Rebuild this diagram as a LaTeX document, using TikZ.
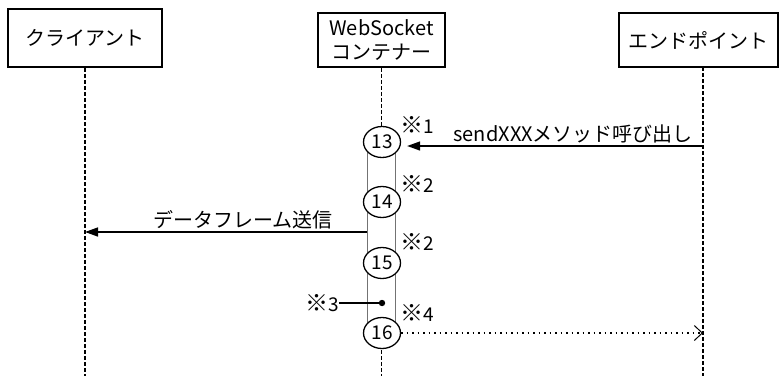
\documentclass[tikz,border=0pt]{standalone}
\usepackage{fontspec}
\setmainfont{Noto Sans CJK JP}
\usetikzlibrary{positioning,arrows.meta,shapes.geometric}
\newcommand{\kome}{{\fontsize{23}{18}\selectfont ※}}

\begin{document}
\begin{tikzpicture}[x=1pt,y=-1pt,
    actor/.style={draw,line width=1.5pt,inner sep=0pt,align=center,font=\fontsize{20}{24}\selectfont},
    lifeline/.style={line width=1.3pt,dash pattern=on 4pt off 2pt},
    stepnode/.style={ellipse,draw,line width=1.3pt,fill=white,minimum width=37pt,minimum height=31pt,inner sep=0pt,font=\fontsize{19}{19}\selectfont},
    note/.style={inner sep=0pt,font=\fontsize{19}{19}\selectfont},
    msg/.style={line width=1.4pt,-{Triangle[length=13pt,width=9pt]}},
    reply/.style={line width=1.2pt,dash pattern=on 1.5pt off 4pt,-{Straight Barb[length=8pt,width=15pt,line width=1pt]}},
    lbl/.style={above=2pt,inner sep=0pt,font=\fontsize{20}{20}\selectfont}]
  \useasboundingbox (0,0) rectangle (779,376);

  % lifeline heads
  \node[actor,minimum width=154pt,minimum height=58pt] (client) at (85,38) {クライアント};
  \node[actor,minimum width=127pt,minimum height=54pt] (ws) at (381.5,40) {WebSocket\\コンテナー};
  \node[actor,minimum width=159pt,minimum height=54pt] (ep) at (698.5,40) {エンドポイント};

  \coordinate (ep top) at (703,67);
  \coordinate (client end) at (85,376);
  \coordinate (ws end) at (381.5,376);
  \coordinate (ep end) at (703,376);
  \draw[lifeline] (client.south) -- (client end);
  \draw[lifeline] (ws.south) -- (ws end);
  \draw[lifeline] (ep top) -- (ep end);

  % activation bar
  \draw[black!55,line width=0.8pt,fill=white] (367,142) rectangle (395,333);

  \foreach \n/\y in {13/142,14/202,15/263,16/333}
    \node[stepnode] (s\n) at (382,\y) {\n};

  \node[note] (n1) at (417,125) {\kome 1};
  \node[note] (n2) at (417,184) {\kome 2};
  \node[note] (n2b) at (417,242) {\kome 2};
  \node[note] (n4) at (417,313) {\kome 4};
  \node[note] (n3) at (322,303) {\kome 3};
  \fill (382,303) circle (3.2pt) coordinate (dot);
  \draw[line width=1.2pt] (n3.east) -- (dot);

  % messages
  \coordinate (call) at (703,146);
  \draw[msg,shorten >=6pt] (call) -- (s13.east |- call)
    node[lbl,pos=0.43] (callname) {sendXXXメソッド呼び出し};
  \coordinate (frame) at (367,232);
  \draw[msg] (frame) -- (client end |- frame)
    node[lbl,pos=0.44] (framename) {データフレーム送信};
  \draw[reply] (s16.east) -- (ep end |- s16.east);
\end{tikzpicture}
\end{document}
